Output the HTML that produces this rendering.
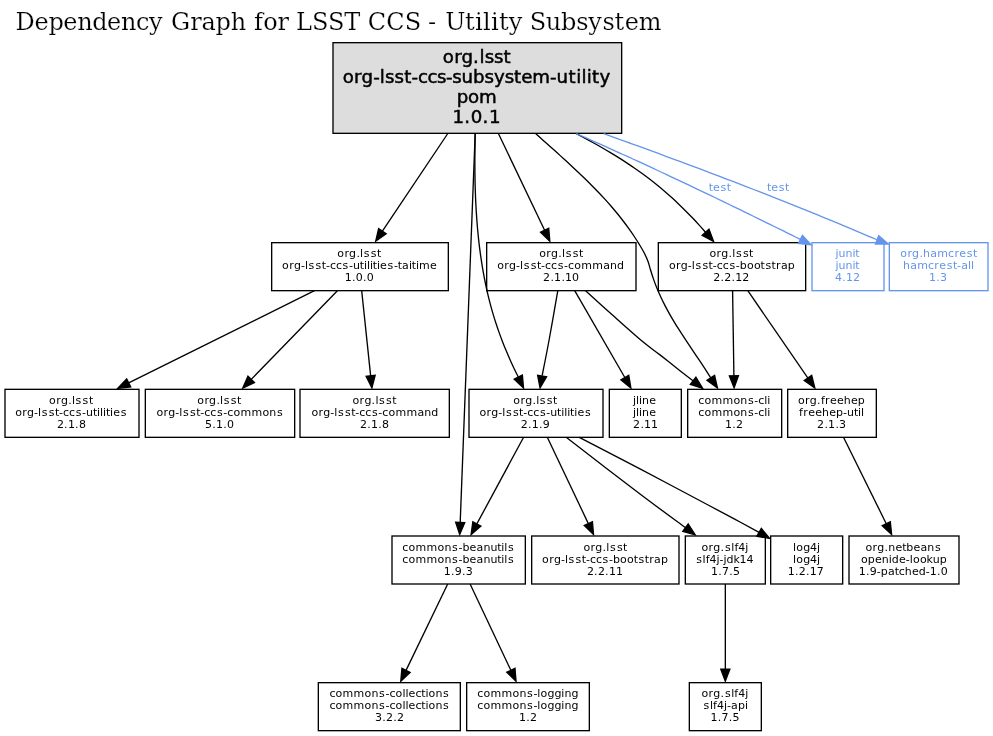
<!DOCTYPE html>
<html lang="en"><head><meta charset="utf-8"><title>Dependency Graph for LSST CCS - Utility Subsystem</title>
<style>
html,body{margin:0;padding:0;background:#fff}
svg{display:block;will-change:transform}
svg text{font-family:"DejaVu Sans","Liberation Sans",sans-serif;white-space:pre}
svg text.rt{stroke:#000;stroke-width:.5px}
svg text.title{font-family:"DejaVu Serif","Liberation Serif",serif;stroke:#fff;stroke-width:.2px}
svg rect,svg path,svg polygon{stroke-width:1.333}
</style></head>
<body>
<svg width="993" height="736" viewBox="0 0 993 736">
<rect x="0" y="0" width="993" height="736" fill="#fff" stroke="none"/>
<text class="title" x="15.5 34.4 48.4 63.3 77.2 92.2 107.1 121.0 136.0 148.9 162.9 171.1 190.3 201.4 215.5 230.7 245.7 254.0 263.3 277.6 288.6 295.9 312.0 328.1 344.2 360.2 367.7 386.2 404.7 420.7 427.9 435.9 445.3 465.1 475.1 483.0 490.9 498.9 508.8 522.8 529.7 545.8 561.0 576.2 588.3 602.4 614.6 624.7 638.8" y="30.40" font-size="24">Dependency Graph for LSST CCS - Utility Subsystem</text>
<g class="nodes">
<rect x="333.0" y="42.67" width="288.67" height="90.66" fill="#dddddd" stroke="#000"/>
<text x="442.8 454.3 461.6 473.1 479.4 484.7 494.1 503.5" y="62.80" font-size="18.2" class="rt">org.lsst</text>
<text class="rt" x="342.8 354.1 361.6 373.2 379.8 385.0 394.6 404.2 411.5 418.1 427.6 437.0 446.0 452.2 461.6 473.1 484.5 494.0 504.7 514.1 521.2 532.3 550.0 556.5 568.6 576.2 581.5 586.8 592.1 599.6" y="82.90" font-size="18.2">org-lsst-ccs-subsystem-utility</text>
<text x="456.7 467.9 479.0" y="103.00" font-size="18.2" class="rt">pom</text>
<text x="452.4 464.3 470.8 482.6 489.1" y="123.10" font-size="18.2" class="rt">1.0.1</text>
<rect x="271.67" y="242.67" width="176.66" height="48" fill="none" stroke="#000"/>
<text x="337.3 344.4 349.1 356.4 360.1 363.8 370.8 377.0" y="257.27" font-size="11">org.lsst</text>
<text x="282.1 289.2 293.9 300.9 304.9 308.6 315.6 321.8 325.9 329.9 335.9 342.6 348.9 352.9 359.8 363.9 366.9 369.9 372.8 376.9 380.0 387.6 393.9 397.8 402.1 408.9 411.8 415.9 419.1 430.0" y="269.27" font-size="11">org-lsst-ccs-utilities-taitime</text>
<text x="344.8 352.1 355.8 363.1 366.8" y="281.27" font-size="11">1.0.0</text>
<rect x="486.67" y="242.67" width="149.33" height="48" fill="none" stroke="#000"/>
<text x="539.2 546.3 551.0 558.3 562.0 565.7 572.7 578.9" y="257.27" font-size="11">org.lsst</text>
<text x="497.2 504.3 509.0 516.0 520.0 523.7 530.7 536.9 541.0 545.0 551.0 557.7 564.0 568.0 574.2 581.2 592.2 603.2 610.0 617.0" y="269.27" font-size="11">org-lsst-ccs-command</text>
<text x="543.1 550.4 554.1 561.4 565.1 572.1" y="281.27" font-size="11">2.1.10</text>
<rect x="658.33" y="242.67" width="147.34" height="48" fill="none" stroke="#000"/>
<text x="709.4 716.5 721.2 728.5 732.2 735.9 742.9 749.1" y="257.27" font-size="11">org.lsst</text>
<text x="668.9 676.0 680.8 687.8 691.8 695.4 702.4 708.6 712.8 716.8 722.8 729.4 735.8 739.8 746.9 753.9 760.6 765.4 771.6 776.0 780.9 787.8" y="269.27" font-size="11">org-lsst-ccs-bootstrap</text>
<text x="713.3 720.5 724.3 731.5 735.3 742.3" y="281.27" font-size="11">2.2.12</text>
<rect x="812.00" y="242.67" width="72.00" height="48" fill="none" stroke="#6495ed"/>
<text x="835.4 838.5 845.5 852.4 855.3" y="257.27" font-size="11" fill="#6495ed">junit</text>
<text x="835.4 838.5 845.5 852.4 855.3" y="269.27" font-size="11" fill="#6495ed">junit</text>
<text x="835.1 842.3 846.1 853.1" y="281.27" font-size="11" fill="#6495ed">4.12</text>
<rect x="889.33" y="242.67" width="98.67" height="48" fill="none" stroke="#6495ed"/>
<text x="900.3 907.4 912.1 919.4 923.1 930.3 937.3 948.1 954.4 959.2 966.8 973.0" y="257.27" font-size="11" fill="#6495ed">org.hamcrest</text>
<text x="903.1 910.2 917.2 928.1 934.3 939.2 946.7 952.9 957.1 961.2 968.1 971.1" y="269.27" font-size="11" fill="#6495ed">hamcrest-all</text>
<text x="928.9 936.2 939.9" y="281.27" font-size="11" fill="#6495ed">1.3</text>
<rect x="5.00" y="389.33" width="134.00" height="48" fill="none" stroke="#000"/>
<text x="49.1 56.2 61.0 68.3 72.0 75.6 82.6 88.9" y="403.93" font-size="11">org.lsst</text>
<text x="15.2 22.3 27.1 34.1 38.0 41.7 48.7 54.9 59.1 63.0 69.0 75.7 82.1 86.1 92.9 97.0 100.0 103.0 105.9 110.0 113.2 120.7" y="415.93" font-size="11">org-lsst-ccs-utilities</text>
<text x="56.9 64.1 67.9 75.1 78.9" y="427.93" font-size="11">2.1.8</text>
<rect x="145.33" y="389.33" width="149.34" height="48" fill="none" stroke="#000"/>
<text x="197.3 204.4 209.1 216.4 220.1 223.8 230.8 237.0" y="403.93" font-size="11">org.lsst</text>
<text x="156.4 163.6 168.3 175.3 179.3 182.9 189.9 196.2 200.3 204.3 210.3 216.9 223.3 227.3 233.4 240.5 251.5 262.4 269.3 276.9" y="415.93" font-size="11">org-lsst-ccs-commons</text>
<text x="205.0 212.2 216.0 223.2 227.0" y="427.93" font-size="11">5.1.0</text>
<rect x="300.00" y="389.33" width="149.33" height="48" fill="none" stroke="#000"/>
<text x="352.5 359.6 364.4 371.6 375.4 379.0 386.0 392.2" y="403.93" font-size="11">org.lsst</text>
<text x="311.5 318.6 323.3 330.3 334.3 338.0 345.0 351.2 355.3 359.3 365.3 372.0 378.3 382.3 388.5 395.5 406.5 417.5 424.3 431.3" y="415.93" font-size="11">org-lsst-ccs-command</text>
<text x="360.0 367.2 371.0 378.2 382.0" y="427.93" font-size="11">2.1.8</text>
<rect x="469.00" y="389.33" width="134.00" height="48" fill="none" stroke="#000"/>
<text x="513.3 520.4 525.2 532.4 536.2 539.8 546.8 553.0" y="403.93" font-size="11">org.lsst</text>
<text x="479.4 486.5 491.3 498.3 502.2 505.9 512.9 519.1 523.3 527.2 533.2 539.9 546.3 550.3 557.1 561.2 564.2 567.2 570.1 574.2 577.4 584.9" y="415.93" font-size="11">org-lsst-ccs-utilities</text>
<text x="520.7 527.9 531.7 538.9 542.7" y="427.93" font-size="11">2.1.9</text>
<rect x="609.33" y="389.33" width="72.00" height="48" fill="none" stroke="#000"/>
<text x="633.1 636.1 639.1 642.1 649.2" y="403.93" font-size="11">jline</text>
<text x="633.1 636.1 639.1 642.1 649.2" y="415.93" font-size="11">jline</text>
<text x="633.1 640.4 644.1 651.1" y="427.93" font-size="11">2.11</text>
<rect x="687.67" y="389.33" width="94.00" height="48" fill="none" stroke="#000"/>
<text x="698.2 704.4 711.4 722.4 733.4 740.3 747.9 754.3 758.2 764.2 767.2" y="403.93" font-size="11">commons-cli</text>
<text x="698.2 704.4 711.4 722.4 733.4 740.3 747.9 754.3 758.2 764.2 767.2" y="415.93" font-size="11">commons-cli</text>
<text x="725.0 732.2 736.0" y="427.93" font-size="11">1.2</text>
<rect x="787.67" y="389.33" width="88.66" height="48" fill="none" stroke="#000"/>
<text x="798.0 805.1 809.8 817.1 820.9 825.1 830.0 837.0 843.8 851.0 857.8" y="403.93" font-size="11">org.freehep</text>
<text x="799.1 803.3 808.2 815.2 822.1 829.2 836.1 843.1 847.1 853.9 858.0 861.0" y="415.93" font-size="11">freehep-util</text>
<text x="817.1 824.4 828.1 835.4 839.1" y="427.93" font-size="11">2.1.3</text>
<rect x="392.00" y="536.00" width="133.33" height="48" fill="none" stroke="#000"/>
<text x="402.3 408.5 415.5 426.5 437.5 444.4 452.0 458.4 462.4 469.5 476.5 483.4 490.4 497.2 501.3 504.3 508.0" y="550.60" font-size="11">commons-beanutils</text>
<text x="402.3 408.5 415.5 426.5 437.5 444.4 452.0 458.4 462.4 469.5 476.5 483.4 490.4 497.2 501.3 504.3 508.0" y="562.60" font-size="11">commons-beanutils</text>
<text x="443.8 451.0 454.8 462.0 465.8" y="574.60" font-size="11">1.9.3</text>
<rect x="531.67" y="536.00" width="147.33" height="48" fill="none" stroke="#000"/>
<text x="583.4 590.5 595.2 602.5 606.2 609.9 616.9 623.1" y="550.60" font-size="11">org.lsst</text>
<text x="542.1 549.2 553.9 560.9 564.9 568.6 575.6 581.8 585.9 589.9 595.9 602.6 608.9 612.9 620.1 627.1 633.8 638.6 644.8 649.2 654.1 660.9" y="562.60" font-size="11">org-lsst-ccs-bootstrap</text>
<text x="586.9 594.1 597.9 605.1 608.9 615.9" y="574.60" font-size="11">2.2.11</text>
<rect x="685.33" y="536.00" width="80.00" height="48" fill="none" stroke="#000"/>
<text x="701.5 708.6 713.3 720.6 725.0 731.3 734.4 738.3 745.3" y="550.60" font-size="11">org.slf4j</text>
<text x="696.2 702.6 705.7 709.6 716.6 719.6 723.6 726.6 733.4 739.6 746.6" y="562.60" font-size="11">slf4j-jdk14</text>
<text x="710.9 718.2 721.9 729.2 732.9" y="574.60" font-size="11">1.7.5</text>
<rect x="770.67" y="536.00" width="72.00" height="48" fill="none" stroke="#000"/>
<text x="793.1 796.3 803.2 810.1 817.1" y="550.60" font-size="11">log4j</text>
<text x="793.1 796.3 803.2 810.1 817.1" y="562.60" font-size="11">log4j</text>
<text x="787.8 795.1 798.8 806.1 809.8 816.8" y="574.60" font-size="11">1.2.17</text>
<rect x="849.00" y="536.00" width="110.00" height="48" fill="none" stroke="#000"/>
<text x="865.4 872.6 877.3 884.6 888.3 895.4 902.2 906.3 913.4 920.4 927.3 934.9" y="550.60" font-size="11">org.netbeans</text>
<text x="860.9 867.8 874.9 881.8 888.8 891.8 898.9 905.8 909.8 912.9 919.9 926.6 932.8 939.8" y="562.60" font-size="11">openide-lookup</text>
<text x="858.8 866.1 869.8 876.8 880.8 887.9 894.7 898.8 904.8 911.9 918.8 925.8 929.8 937.1 940.8" y="574.60" font-size="11">1.9-patched-1.0</text>
<rect x="318.33" y="682.67" width="142.00" height="48" fill="none" stroke="#000"/>
<text x="329.4 335.5 342.5 353.5 364.5 371.4 379.0 385.4 389.4 395.5 402.4 405.4 408.5 415.4 421.2 425.4 428.5 435.4 443.0" y="697.27" font-size="11">commons-collections</text>
<text x="329.4 335.5 342.5 353.5 364.5 371.4 379.0 385.4 389.4 395.5 402.4 405.4 408.5 415.4 421.2 425.4 428.5 435.4 443.0" y="709.27" font-size="11">commons-collections</text>
<text x="375.0 382.2 386.0 393.2 397.0" y="721.27" font-size="11">3.2.2</text>
<rect x="466.67" y="682.67" width="122.66" height="48" fill="none" stroke="#000"/>
<text x="477.3 483.5 490.5 501.5 512.5 519.4 527.0 533.4 537.3 540.5 547.4 554.4 561.3 564.4 571.4" y="697.27" font-size="11">commons-logging</text>
<text x="477.3 483.5 490.5 501.5 512.5 519.4 527.0 533.4 537.3 540.5 547.4 554.4 561.3 564.4 571.4" y="709.27" font-size="11">commons-logging</text>
<text x="519.1 526.3 530.1" y="721.27" font-size="11">1.2</text>
<rect x="689.33" y="682.67" width="72.00" height="48" fill="none" stroke="#000"/>
<text x="701.4 708.5 713.3 720.5 724.9 731.3 734.3 738.3 745.3" y="697.27" font-size="11">org.slf4j</text>
<text x="703.6 709.9 713.0 716.9 723.9 727.0 731.1 737.9 744.9" y="709.27" font-size="11">slf4j-api</text>
<text x="710.6 717.8 721.6 728.8 732.6" y="721.27" font-size="11">1.7.5</text>
</g>
<g class="edges">
<path d="M447.80,133.50L382.40,231.24" fill="none" stroke="#000"/><polygon points="375.67,241.29 378.62,228.71 386.18,233.77" fill="#000" stroke="#000"/>
<path d="M475.20,133.60L460.20,522.36" fill="none" stroke="#000"/><polygon points="459.73,534.45 455.65,522.18 464.75,522.53" fill="#000" stroke="#000"/>
<path d="M475.20,133.60C475.17,135.19 475.06,139.97 475.01,143.16C474.96,146.35 474.92,149.55 474.90,152.75C474.87,155.95 474.86,159.15 474.86,162.36C474.86,165.56 474.88,168.77 474.91,171.98C474.95,175.19 474.99,178.40 475.06,181.61C475.13,184.82 475.21,188.04 475.32,191.25C475.43,194.46 475.55,197.68 475.70,200.89C475.85,204.10 476.01,207.31 476.21,210.52C476.40,213.73 476.61,216.94 476.85,220.14C477.09,223.35 477.36,226.55 477.65,229.75C477.94,232.95 478.26,236.14 478.60,239.33C478.95,242.52 479.32,245.71 479.73,248.89C480.13,252.07 480.57,255.25 481.04,258.42C481.50,261.59 482.00,264.75 482.53,267.91C483.06,271.06 483.63,274.21 484.23,277.36C484.83,280.50 485.46,283.63 486.13,286.76C486.80,289.88 487.51,293.00 488.26,296.11C489.01,299.22 489.80,302.32 490.63,305.40C491.46,308.49 492.33,311.57 493.24,314.63C494.16,317.70 495.12,320.76 496.12,323.80C497.12,326.84 498.16,329.87 499.24,332.89C500.32,335.91 501.45,338.91 502.62,341.90C503.78,344.90 504.99,347.87 506.22,350.84C507.46,353.80 508.74,356.75 510.05,359.68C511.36,362.61 512.70,365.53 514.07,368.43C515.45,371.33 517.58,375.64 518.28,377.08" fill="none" stroke="#000"/><polygon points="523.53,387.98 514.18,379.06 522.38,375.11" fill="#000" stroke="#000"/>
<path d="M498.40,133.50L544.62,230.31" fill="none" stroke="#000"/><polygon points="549.83,241.23 540.51,232.27 548.73,228.35" fill="#000" stroke="#000"/>
<path d="M535.60,133.60C536.78,134.65 540.33,137.82 542.69,139.93C545.06,142.04 547.43,144.14 549.79,146.26C552.16,148.37 554.52,150.48 556.88,152.60C559.24,154.72 561.60,156.85 563.95,158.98C566.29,161.12 568.64,163.26 570.96,165.41C573.29,167.57 575.61,169.73 577.91,171.91C580.21,174.09 582.50,176.28 584.77,178.49C587.04,180.70 589.29,182.93 591.52,185.18C593.75,187.43 595.96,189.69 598.15,191.98C600.33,194.27 602.49,196.58 604.63,198.92C606.76,201.26 608.86,203.62 610.94,206.01C613.01,208.41 615.05,210.82 617.06,213.28C619.07,215.73 621.04,218.21 622.98,220.73C624.91,223.24 626.82,225.79 628.67,228.38C630.53,230.97 632.35,233.59 634.12,236.25C635.89,238.92 637.63,241.62 639.30,244.37C640.97,247.11 642.68,249.91 644.13,252.73C645.57,255.55 646.89,258.42 647.96,261.31C649.04,264.20 649.67,267.12 650.57,270.05C651.48,272.98 652.37,275.95 653.41,278.90C654.44,281.85 655.56,284.82 656.76,287.76C657.95,290.70 659.23,293.64 660.57,296.54C661.90,299.44 663.32,302.32 664.78,305.15C666.24,307.99 667.76,310.80 669.32,313.58C670.89,316.36 672.50,319.10 674.15,321.83C675.79,324.56 677.48,327.27 679.19,329.96C680.90,332.65 682.64,335.32 684.39,337.98C686.14,340.64 687.91,343.29 689.68,345.93C691.45,348.57 693.24,351.20 695.01,353.84C696.78,356.47 698.56,359.10 700.31,361.73C702.06,364.37 703.81,367.00 705.53,369.64C707.24,372.29 709.75,376.27 710.60,377.60" fill="none" stroke="#000"/><polygon points="717.43,387.99 706.98,380.38 714.58,375.38" fill="#000" stroke="#000"/>
<path d="M576.30,133.60C577.72,134.35 582.00,136.60 584.83,138.13C587.66,139.65 590.49,141.19 593.30,142.76C596.11,144.32 598.91,145.90 601.69,147.51C604.48,149.12 607.25,150.74 610.00,152.39C612.76,154.05 615.50,155.72 618.22,157.43C620.94,159.13 623.64,160.86 626.32,162.62C629.00,164.38 631.66,166.16 634.30,167.98C636.94,169.80 639.56,171.65 642.15,173.53C644.74,175.42 647.31,177.33 649.85,179.28C652.40,181.24 654.91,183.23 657.40,185.25C659.89,187.28 662.35,189.34 664.78,191.44C667.21,193.53 669.61,195.67 671.99,197.83C674.37,199.99 676.71,202.19 679.04,204.41C681.36,206.63 683.65,208.89 685.92,211.17C688.18,213.45 690.42,215.75 692.64,218.08C694.85,220.41 697.03,222.76 699.19,225.13C701.35,227.50 704.53,231.11 705.60,232.30" fill="none" stroke="#000"/><polygon points="713.54,241.36 702.14,235.26 708.99,229.26" fill="#000" stroke="#000"/>
<path d="M576.30,133.60C577.75,134.24 582.12,136.15 585.03,137.43C587.93,138.72 590.84,140.01 593.74,141.30C596.64,142.59 599.54,143.89 602.44,145.19C605.34,146.49 608.24,147.79 611.13,149.10C614.03,150.41 616.92,151.72 619.82,153.03C622.71,154.35 625.60,155.66 628.49,156.98C631.38,158.31 634.27,159.63 637.16,160.96C640.04,162.28 642.93,163.62 645.81,164.95C648.70,166.28 651.58,167.62 654.46,168.96C657.34,170.30 660.22,171.64 663.10,172.99C665.98,174.33 668.86,175.68 671.73,177.04C674.61,178.39 677.49,179.74 680.36,181.10C683.23,182.46 686.10,183.82 688.98,185.18C691.85,186.54 694.72,187.91 697.59,189.28C700.45,190.64 703.32,192.01 706.19,193.39C709.05,194.76 711.92,196.14 714.78,197.51C717.65,198.89 720.51,200.27 723.37,201.65C726.23,203.03 729.09,204.42 731.95,205.81C734.81,207.19 737.67,208.58 740.53,209.97C743.39,211.36 746.24,212.76 749.10,214.15C751.95,215.55 754.81,216.94 757.66,218.34C760.52,219.74 763.37,221.14 766.22,222.54C769.07,223.94 771.92,225.35 774.77,226.75C777.62,228.16 780.47,229.57 783.32,230.97C786.17,232.38 789.01,233.79 791.86,235.20C794.71,236.62 798.97,238.74 800.40,239.44" fill="none" stroke="#6495ed"/><polygon points="811.24,244.82 798.37,243.52 802.42,235.37" fill="#6495ed" stroke="#6495ed"/>
<path d="M603.70,133.60C605.18,134.14 609.63,135.74 612.60,136.81C615.56,137.88 618.53,138.95 621.49,140.03C624.45,141.10 627.42,142.18 630.38,143.25C633.34,144.33 636.30,145.41 639.27,146.49C642.23,147.57 645.19,148.65 648.15,149.74C651.11,150.82 654.07,151.91 657.02,152.99C659.98,154.08 662.94,155.17 665.90,156.26C668.85,157.36 671.81,158.45 674.77,159.55C677.72,160.64 680.68,161.74 683.63,162.84C686.58,163.95 689.54,165.05 692.49,166.15C695.44,167.26 698.39,168.37 701.34,169.48C704.29,170.59 707.24,171.70 710.19,172.82C713.13,173.93 716.08,175.05 719.03,176.17C721.97,177.29 724.92,178.42 727.86,179.54C730.80,180.67 733.75,181.80 736.69,182.93C739.63,184.06 742.57,185.19 745.51,186.33C748.45,187.47 751.39,188.61 754.33,189.75C757.26,190.90 760.20,192.04 763.13,193.19C766.07,194.34 769.00,195.49 771.93,196.65C774.87,197.80 777.80,198.96 780.73,200.12C783.66,201.29 786.59,202.45 789.51,203.62C792.44,204.79 795.37,205.96 798.29,207.13C801.21,208.31 804.14,209.49 807.06,210.67C809.98,211.85 812.90,213.04 815.82,214.23C818.74,215.42 821.66,216.61 824.57,217.81C827.49,219.00 830.40,220.20 833.32,221.41C836.23,222.61 839.14,223.82 842.05,225.03C844.96,226.24 847.87,227.46 850.78,228.68C853.68,229.89 856.59,231.12 859.49,232.35C862.40,233.57 865.30,234.81 868.20,236.04C871.10,237.27 875.45,239.13 876.90,239.75" fill="none" stroke="#6495ed"/><polygon points="888.40,244.10 875.48,244.08 878.69,235.56" fill="#6495ed" stroke="#6495ed"/>
<path d="M314.50,290.70L128.70,382.94" fill="none" stroke="#000"/><polygon points="117.86,388.32 126.68,378.87 130.72,387.02" fill="#000" stroke="#000"/>
<path d="M337.40,290.70L251.22,379.41" fill="none" stroke="#000"/><polygon points="242.79,388.09 247.96,376.24 254.49,382.58" fill="#000" stroke="#000"/>
<path d="M361.70,290.70L370.65,375.82" fill="none" stroke="#000"/><polygon points="371.91,387.85 366.12,376.29 375.17,375.34" fill="#000" stroke="#000"/>
<path d="M557.80,290.70C556.35,298.92 551.70,325.87 549.10,340.00C546.50,354.13 543.35,369.58 542.20,375.50" fill="none" stroke="#000"/><polygon points="540.05,387.91 537.63,375.21 546.60,376.77" fill="#000" stroke="#000"/>
<path d="M574.70,290.70L624.82,377.48" fill="none" stroke="#000"/><polygon points="630.87,387.96 620.88,379.76 628.76,375.21" fill="#000" stroke="#000"/>
<path d="M585.60,290.80C589.98,294.75 602.50,306.13 611.90,314.50C621.30,322.87 633.98,334.27 642.00,341.00C650.02,347.73 653.67,349.95 660.00,354.90C666.33,359.85 674.48,366.38 680.00,370.70C685.52,375.02 690.92,379.13 693.10,380.81" fill="none" stroke="#000"/><polygon points="702.63,388.27 690.30,384.40 695.91,377.23" fill="#000" stroke="#000"/>
<path d="M732.60,290.70L733.90,375.75" fill="none" stroke="#000"/><polygon points="734.09,387.85 729.35,375.82 738.45,375.68" fill="#000" stroke="#000"/>
<path d="M747.80,290.70L807.95,378.03" fill="none" stroke="#000"/><polygon points="814.82,388.00 804.21,380.61 811.70,375.45" fill="#000" stroke="#000"/>
<path d="M523.60,437.30L476.85,523.90" fill="none" stroke="#000"/><polygon points="471.10,534.55 472.85,521.74 480.86,526.06" fill="#000" stroke="#000"/>
<path d="M547.30,437.30L588.34,523.60" fill="none" stroke="#000"/><polygon points="593.53,534.53 584.23,525.56 592.45,521.65" fill="#000" stroke="#000"/>
<path d="M566.20,437.30C578.50,446.75 620.12,478.95 640.00,494.00C659.88,509.05 677.90,522.00 685.48,527.60" fill="none" stroke="#000"/><polygon points="695.21,534.79 682.78,531.26 688.19,523.94" fill="#000" stroke="#000"/>
<path d="M579.30,437.30C589.42,442.57 618.22,457.45 640.00,468.90C661.78,480.35 693.33,497.15 710.00,506.00C726.67,514.85 731.82,517.61 740.00,522.00C748.18,526.39 755.88,530.64 759.06,532.36" fill="none" stroke="#000"/><polygon points="769.56,538.38 756.80,536.31 761.32,528.42" fill="#000" stroke="#000"/>
<path d="M843.50,437.30L886.26,523.69" fill="none" stroke="#000"/><polygon points="891.62,534.54 882.18,525.71 890.33,521.67" fill="#000" stroke="#000"/>
<path d="M447.70,584.00L406.03,670.34" fill="none" stroke="#000"/><polygon points="400.77,681.23 401.93,668.36 410.13,672.31" fill="#000" stroke="#000"/>
<path d="M470.10,584.00L510.87,670.29" fill="none" stroke="#000"/><polygon points="516.04,681.23 506.75,672.23 514.98,668.35" fill="#000" stroke="#000"/>
<path d="M725.33,584.00L725.33,669.05" fill="none" stroke="#000"/><polygon points="725.33,681.15 720.78,669.05 729.88,669.05" fill="#000" stroke="#000"/>
</g>
<text x="708.7 713.0 720.5 726.7" y="191.00" font-size="11" fill="#6495ed">test</text>
<text x="766.9 771.2 778.7 784.9" y="191.00" font-size="11" fill="#6495ed">test</text>
</svg>
</body></html>
